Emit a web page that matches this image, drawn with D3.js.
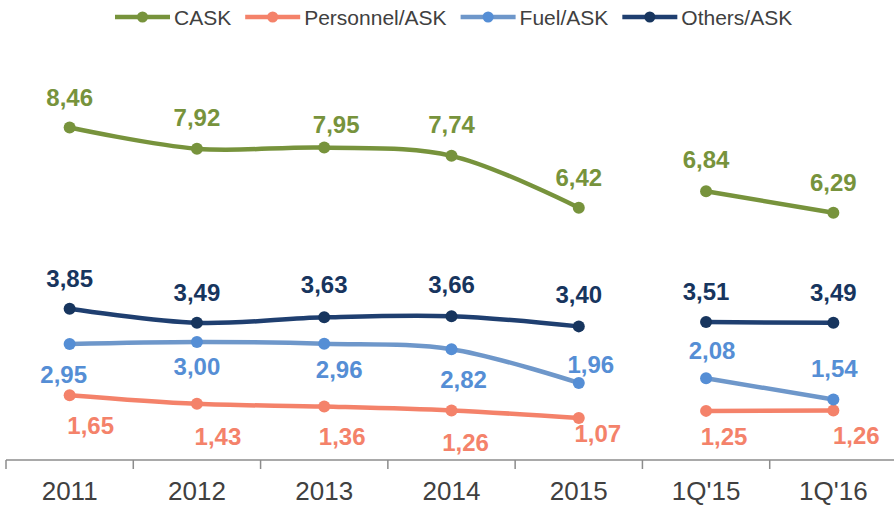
<!DOCTYPE html>
<html>
<head>
<meta charset="utf-8">
<script src="https://cdn.jsdelivr.net/npm/d3@7"></script>
<style>
  html, body { margin: 0; padding: 0; background: #fff; }
  svg { display: block; font-family: Arial, "Liberation Sans", sans-serif; }
</style>
</head>
<body>
<div id="chart"></div>
<script>
// categories, split in two groups (years, then quarters) that are not joined by the lines
var yearCats = ["2011", "2012", "2013", "2014", "2015"];
var quarterCats = ["1Q'15", "1Q'16"];
var categories = yearCats.concat(quarterCats);

// series values (R$ cents / ASK), same order as categories
var caskValues      = [8.46, 7.92, 7.95, 7.74, 6.42, 6.84, 6.29];
var personnelValues = [1.65, 1.43, 1.36, 1.26, 1.07, 1.25, 1.26];
var fuelValues      = [2.95, 3.00, 2.96, 2.82, 1.96, 2.08, 1.54];
var othersValues    = [3.85, 3.49, 3.63, 3.66, 3.40, 3.51, 3.49];

var seriesNames = ["CASK", "Personnel/ASK", "Fuel/ASK", "Others/ASK"];

// styling + label placement per series (offsets are relative to the point: [dx, baseline dy])
var series = [
	{name: seriesNames[0], values: caskValues, line: "#77933C", dot: "#77933C", text: "#77933C",
		labels: [[0, -22], [0, -23], [12, -15], [0, -23], [0, -22], [0, -23], [0, -22]]},
	{name: seriesNames[1], values: personnelValues, line: "#F4826A", dot: "#F4826A", text: "#F4826A",
		labels: [[21, 39], [21, 41], [18, 38], [14, 41], [19, 24], [18, 34], [23, 34]]},
	{name: seriesNames[2], values: fuelValues, line: "#6E97CA", dot: "#558ED5", text: "#558ED5",
		labels: [[-6, 39], [0, 33], [15, 34], [12, 39], [12, -10], [6, -19], [1, -22]]},
	{name: seriesNames[3], values: othersValues, line: "#1F3F70", dot: "#17355E", text: "#17355E",
		labels: [[0, -22], [0, -22], [0, -24], [0, -23], [0, -23], [0, -22], [0, -22]]}
];

var width = 894, height = 505;
var axisY = 460;

var svg = d3.select("#chart").append("svg")
	.attr("width", width)
	.attr("height", height);

// x: one band per category, no padding so band edges are the tick positions
var x = d3.scaleBand()
	.domain(categories)
	.range([6, 897])
	.padding(0);

var cx = function(c) { return x(c) + x.bandwidth() / 2; };

// y: zero sits on the axis line
var y = d3.scaleLinear()
	.domain([0, 10])
	.range([axisY, axisY - 393]);

var fmt = function(v) { return d3.format(".2f")(v).replace(".", ","); };

// x axis: labels at band centres, tick marks at band edges
var xAxis = d3.axisBottom(x).tickSize(0).tickPadding(0).tickSizeOuter(0);
var gx = svg.append("g")
	.attr("class", "x axis")
	.attr("transform", "translate(0," + axisY + ")")
	.call(xAxis);
gx.select(".domain").remove();
gx.selectAll(".tick text")
	.attr("y", 40)
	.attr("dy", 0)
	.attr("fill", "#404040")
	.style("font-size", "26px");

gx.append("line")
	.attr("x1", x.range()[0]).attr("x2", width)
	.attr("y1", 0).attr("y2", 0)
	.attr("stroke", "#8C8C8C")
	.attr("stroke-width", 1.5);

var edges = categories.map(function(c) { return x(c); }).concat([x.range()[1]]);
gx.selectAll(".edge")
	.data(edges)
	.enter().append("line")
		.attr("class", "edge")
		.attr("x1", function(d) { return d; })
		.attr("x2", function(d) { return d; })
		.attr("y1", 0).attr("y2", 9)
		.attr("stroke", "#8C8C8C")
		.attr("stroke-width", 1.5);

// smoothed lines like the spreadsheet's "smoothed line" option
var line = d3.line()
	.curve(d3.curveCatmullRom.alpha(0.5))
	.x(function(d) { return cx(d.cat); })
	.y(function(d) { return y(d.value); });

var groups = [yearCats, quarterCats];

series.forEach(function(s) {
	var pts = categories.map(function(c, i) {
		return {cat: c, value: s.values[i], off: s.labels[i]};
	});

	var g = svg.append("g").attr("class", "series");

	groups.forEach(function(cats) {
		var seg = pts.filter(function(p) { return cats.indexOf(p.cat) >= 0; });
		g.append("path")
			.datum(seg)
			.attr("fill", "none")
			.attr("stroke", s.line)
			.attr("stroke-width", 4.5)
			.attr("stroke-linejoin", "round")
			.attr("stroke-linecap", "round")
			.attr("d", line);
	});

	g.selectAll("circle")
		.data(pts)
		.enter().append("circle")
			.attr("cx", function(d) { return cx(d.cat); })
			.attr("cy", function(d) { return y(d.value); })
			.attr("r", 6)
			.attr("fill", s.dot);

	g.selectAll("text")
		.data(pts)
		.enter().append("text")
			.attr("x", function(d) { return cx(d.cat) + d.off[0]; })
			.attr("y", function(d) { return y(d.value) + d.off[1]; })
			.attr("text-anchor", "middle")
			.attr("fill", s.text)
			.style("font-size", "24px")
			.style("font-weight", "bold")
			.text(function(d) { return fmt(d.value); });
});

// legend across the top
var legend = svg.append("g").attr("class", "legend");
var lx = 115, ly = 17;
series.forEach(function(s) {
	var item = legend.append("g").attr("transform", "translate(" + lx + "," + ly + ")");
	item.append("line")
		.attr("x1", 0).attr("x2", 55)
		.attr("y1", 0).attr("y2", 0)
		.attr("stroke", s.line)
		.attr("stroke-width", 4.5);
	item.append("circle")
		.attr("cx", 27.5).attr("cy", 0)
		.attr("r", 5.5)
		.attr("fill", s.dot);
	var t = item.append("text")
		.attr("x", 59)
		.attr("y", 8)
		.attr("fill", "#404040")
		.style("font-size", "21px")
		.text(s.name);
	lx += 59 + t.node().getComputedTextLength() + 14;
});
</script>
</body>
</html>
